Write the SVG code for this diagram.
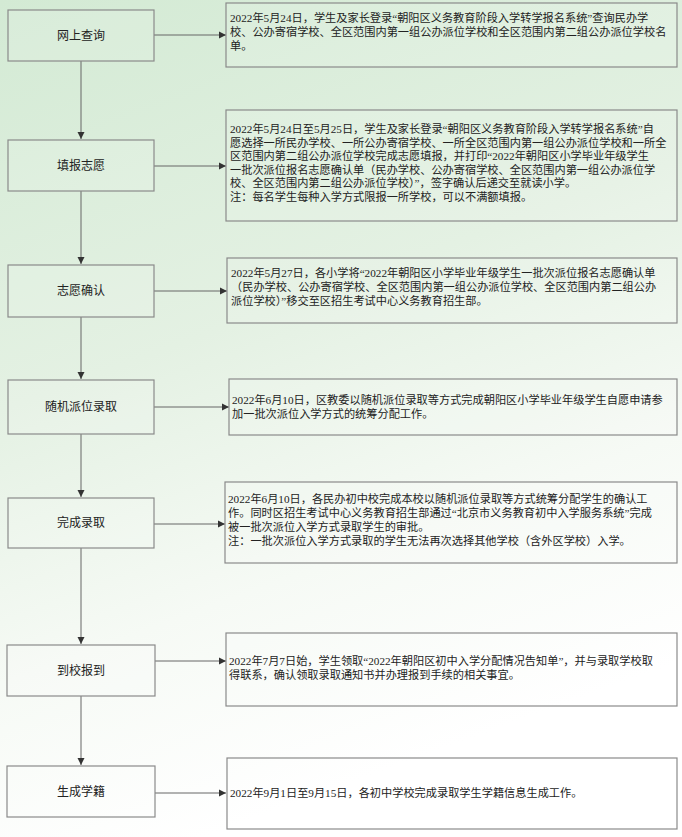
<svg xmlns="http://www.w3.org/2000/svg" width="682" height="837" viewBox="0 0 682 837">
<defs>
<linearGradient id="bg" x1="0" y1="0" x2="0.3" y2="1">
<stop offset="0" stop-color="#d3ead4"/>
<stop offset="0.45" stop-color="#e4f1e3"/>
<stop offset="0.75" stop-color="#f6faf5"/>
<stop offset="1" stop-color="#ffffff"/>
</linearGradient>
<marker id="ah" markerWidth="8" markerHeight="8" refX="7" refY="4" orient="auto" markerUnits="userSpaceOnUse">
<path d="M0,0.5 L7,4 L0,7.5 Z" fill="#333"/>
</marker>
<style>
.n{fill:#ffffff;fill-opacity:0.12;stroke:#8a8a8a;stroke-width:1.2}
.l{font-family:"Liberation Serif","Noto Sans CJK SC",serif;font-size:12px;fill:#222;text-anchor:middle}
.t{font-family:"Liberation Serif","Noto Sans CJK SC",serif;font-size:11.2px;fill:#222}
.c{stroke:#666;stroke-width:1;fill:none;marker-end:url(#ah)}
</style>
</defs>
<rect width="682" height="837" fill="url(#bg)"/>
<g id="connectors">
<line class="c" x1="81" y1="61" x2="81" y2="139"/>
<line class="c" x1="81" y1="191" x2="81" y2="264"/>
<line class="c" x1="81" y1="317" x2="81" y2="379"/>
<line class="c" x1="81" y1="434" x2="81" y2="497"/>
<line class="c" x1="81" y1="548" x2="81" y2="644"/>
<line class="c" x1="81" y1="696" x2="81" y2="765"/>
<line class="c" x1="154" y1="35" x2="226" y2="35"/>
<line class="c" x1="154" y1="166" x2="226" y2="166"/>
<line class="c" x1="154" y1="291" x2="227" y2="291"/>
<line class="c" x1="154" y1="407" x2="229" y2="407"/>
<line class="c" x1="154" y1="524" x2="225" y2="524"/>
<line class="c" x1="155" y1="661" x2="226" y2="661"/>
<line class="c" x1="155" y1="793" x2="226" y2="793"/>
</g>
<g id="n1"><rect class="n" x="8" y="10" width="146" height="51"/><text class="l" x="81" y="40">网上查询</text></g>
<g id="n2"><rect class="n" x="8" y="140" width="146" height="51"/><text class="l" x="81" y="170">填报志愿</text></g>
<g id="n3"><rect class="n" x="8" y="265" width="146" height="52"/><text class="l" x="81" y="295">志愿确认</text></g>
<g id="n4"><rect class="n" x="8" y="380" width="146" height="54"/><text class="l" x="81" y="411">随机派位录取</text></g>
<g id="n5"><rect class="n" x="8" y="498" width="146" height="50"/><text class="l" x="81" y="527">完成录取</text></g>
<g id="n6"><rect class="n" x="7" y="645" width="148" height="51"/><text class="l" x="81" y="675">到校报到</text></g>
<g id="n7"><rect class="n" x="7" y="766" width="148" height="51"/><text class="l" x="81" y="796">生成学籍</text></g>
<g id="d1"><rect class="n" x="226" y="3" width="451" height="64"/>
<text class="t" x="230" y="22">2022年5月24日，学生及家长登录“朝阳区义务教育阶段入学转学报名系统”查询民办学</text>
<text class="t" x="230" y="36">校、公办寄宿学校、全区范围内第一组公办派位学校和全区范围内第二组公办派位学校名</text>
<text class="t" x="230" y="50">单。</text></g>
<g id="d2"><rect class="n" x="226" y="110" width="451" height="111"/>
<text class="t" x="230" y="133">2022年5月24日至5月25日，学生及家长登录“朝阳区义务教育阶段入学转学报名系统”自</text>
<text class="t" x="230" y="147">愿选择一所民办学校、一所公办寄宿学校、一所全区范围内第一组公办派位学校和一所全</text>
<text class="t" x="230" y="160">区范围内第二组公办派位学校完成志愿填报，并打印“2022年朝阳区小学毕业年级学生</text>
<text class="t" x="230" y="174">一批次派位报名志愿确认单（民办学校、公办寄宿学校、全区范围内第一组公办派位学</text>
<text class="t" x="230" y="187">校、全区范围内第二组公办派位学校）”，签字确认后递交至就读小学。</text>
<text class="t" x="230" y="201">注：每名学生每种入学方式限报一所学校，可以不满额填报。</text></g>
<g id="d3"><rect class="n" x="227" y="258" width="450" height="65"/>
<text class="t" x="231" y="277">2022年5月27日，各小学将“2022年朝阳区小学毕业年级学生一批次派位报名志愿确认单</text>
<text class="t" x="231" y="291">（民办学校、公办寄宿学校、全区范围内第一组公办派位学校、全区范围内第二组公办</text>
<text class="t" x="231" y="305">派位学校）”移交至区招生考试中心义务教育招生部。</text></g>
<g id="d4"><rect class="n" x="229" y="379" width="448" height="56"/>
<text class="t" x="232" y="404">2022年6月10日，区教委以随机派位录取等方式完成朝阳区小学毕业年级学生自愿申请参</text>
<text class="t" x="232" y="418">加一批次派位入学方式的统筹分配工作。</text></g>
<g id="d5"><rect class="n" x="225" y="482" width="452" height="81"/>
<text class="t" x="228" y="503">2022年6月10日，各民办初中校完成本校以随机派位录取等方式统筹分配学生的确认工</text>
<text class="t" x="228" y="517">作。同时区招生考试中心义务教育招生部通过“北京市义务教育初中入学服务系统”完成</text>
<text class="t" x="228" y="531">被一批次派位入学方式录取学生的审批。</text>
<text class="t" x="228" y="545">注：一批次派位入学方式录取的学生无法再次选择其他学校（含外区学校）入学。</text></g>
<g id="d6"><rect class="n" x="226" y="633" width="451" height="73"/>
<text class="t" x="229" y="665">2022年7月7日始，学生领取“2022年朝阳区初中入学分配情况告知单”，并与录取学校取</text>
<text class="t" x="229" y="679">得联系，确认领取录取通知书并办理报到手续的相关事宜。</text></g>
<g id="d7"><rect class="n" x="227" y="758" width="450" height="71"/>
<text class="t" x="230" y="797">2022年9月1日至9月15日，各初中学校完成录取学生学籍信息生成工作。</text></g>
</svg>
